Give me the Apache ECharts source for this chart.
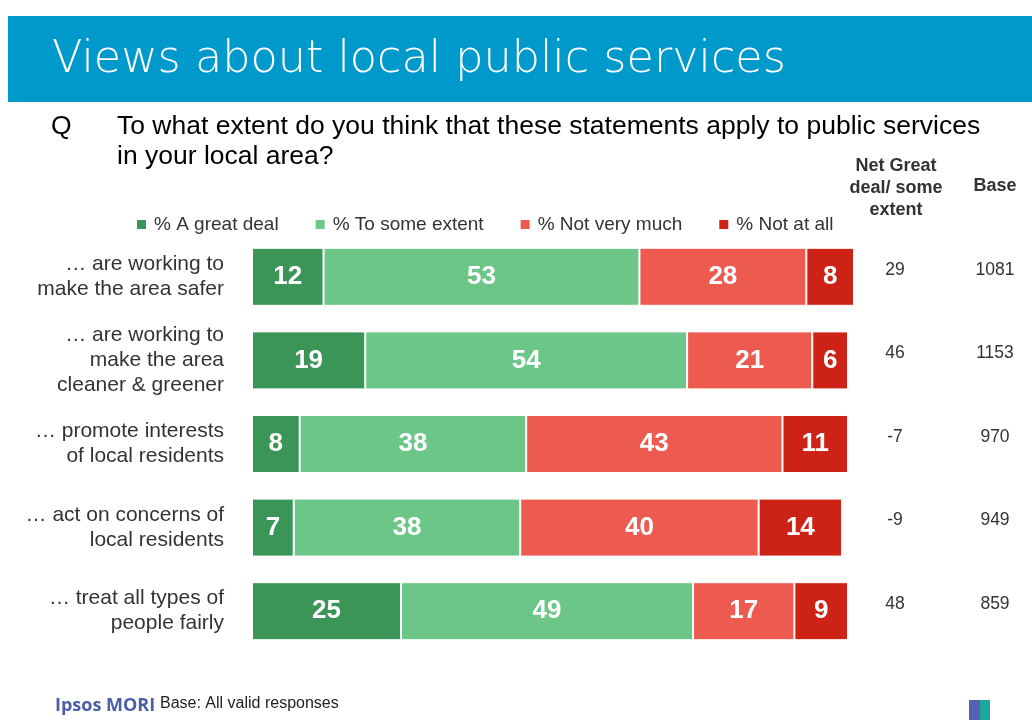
<!DOCTYPE html>
<html>
<head>
<meta charset="utf-8">
<script src="https://cdn.jsdelivr.net/npm/echarts@6/dist/echarts.min.js"></script>
<style>
  html, body { margin: 0; padding: 0; background: #fff; }
  #chart { width: 1032px; height: 720px; }
</style>
</head>
<body>
<div id="chart"></div>
<script>
// Statements asked about (top to bottom)
const statements = [
  '… are working to\nmake the area safer',
  '… are working to\nmake the area\ncleaner & greener',
  '… promote interests\nof local residents',
  '… act on concerns of\nlocal residents',
  '… treat all types of\npeople fairly'
];

// Response shares (%)
const greatDeal   = [12, 19, 8, 7, 25];
const someExtent  = [53, 54, 38, 38, 49];
const notVeryMuch = [28, 21, 43, 40, 17];
const notAtAll    = [8, 6, 11, 14, 9];

// Side table columns
const netGreatSome = [29, 46, -7, -9, 48];
const baseSizes    = [1081, 1153, 970, 949, 859];

const seriesNames = ['% A great deal', '% To some extent', '% Not very much', '% Not at all'];
const seriesColors = ['#3B9557', '#6CC688', '#EC5A50', '#CD2216'];
const seriesData = [greatDeal, someExtent, notVeryMuch, notAtAll];

const FONT = '"Liberation Sans", Arial, sans-serif';

const chart = echarts.init(document.getElementById('chart'), null, { renderer: 'canvas' });

chart.setOption({
  backgroundColor: '#ffffff',
  animation: false,
  legend: {
    data: seriesNames,
    left: 130,
    top: 210,
    itemWidth: 11,
    itemHeight: 11,
    itemGap: 35,
    icon: 'rect',
    selectedMode: false,
    textStyle: { fontFamily: FONT, fontSize: 19, color: '#333333', padding: [0, 0, 0, 2] }
  },
  grid: { left: 252, top: 235, width: 602, height: 418, containLabel: false },
  xAxis: {
    type: 'value', min: 0, max: 101, show: false
  },
  yAxis: [
    {
      type: 'category',
      data: statements,
      inverse: true,
      axisLine: { show: false },
      axisTick: { show: false },
      splitLine: { show: false },
      axisLabel: {
        margin: 28,
        align: 'right',
        fontFamily: FONT,
        fontSize: 21,
        lineHeight: 25,
        color: '#333333'
      }
    },
    {
      type: 'category',
      data: statements.map((s, i) => String(i)),
      inverse: true,
      position: 'right',
      axisLine: { show: false },
      axisTick: { show: false },
      splitLine: { show: false },
      axisLabel: {
        margin: 0,
        formatter: function (v) {
          const i = Number(v);
          return '{a|' + netGreatSome[i] + '}{b|' + baseSizes[i] + '}';
        },
        rich: {
          a: { width: 82, align: 'center', fontFamily: FONT, fontSize: 17.5, color: '#333333', padding: [0, 0, 14, 0] },
          b: { width: 118, align: 'center', fontFamily: FONT, fontSize: 17.5, color: '#333333', padding: [0, 0, 14, 0] }
        }
      }
    }
  ],
  series: seriesData.map((d, k) => ({
    name: seriesNames[k],
    type: 'bar',
    stack: 'total',
    barWidth: 58,
    data: d,
    itemStyle: { color: seriesColors[k], borderColor: '#ffffff', borderWidth: 1 },
    label: {
      show: true,
      position: 'inside',
      color: '#ffffff',
      fontFamily: FONT,
      fontWeight: 'bold',
      fontSize: 26
    }
  })),
  graphic: [
    // header band
    { type: 'rect', left: 8, top: 16, shape: { width: 1024, height: 86 }, style: { fill: '#0099CC' }, silent: true },
    { type: 'text', left: 52, top: 38, style: { text: 'Views about local public services', fill: '#ffffff', font: '200 44.5px "DejaVu Sans", Lato, sans-serif' } },
    // question
    { type: 'text', left: 51, top: 113, style: { text: 'Q', fill: '#000000', font: '26.5px ' + FONT } },
    { type: 'text', left: 117, top: 112, style: { text: 'To what extent do you think that these statements apply to public services\nin your local area?', fill: '#000000', font: '26.5px ' + FONT, lineHeight: 30 } },
    // table headers
    { type: 'text', x: 896, y: 155, style: { text: 'Net Great\ndeal/ some\nextent', align: 'center', fill: '#333333', font: 'bold 18px ' + FONT, lineHeight: 22 } },
    { type: 'text', x: 995, y: 177, style: { text: 'Base', align: 'center', fill: '#333333', font: 'bold 18px ' + FONT } },
    // footer
    { type: 'text', left: 55, top: 697, style: { text: 'Ipsos MORI', fill: '#4B5FA8', font: 'bold 18px "Open Sans", ' + FONT } },
    { type: 'text', left: 160, top: 696, style: { text: 'Base: All valid responses', fill: '#222222', font: '16px ' + FONT } },
    // small corner mark
    { type: 'rect', left: 969, top: 700, shape: { width: 11, height: 20 }, style: { fill: '#5561B0' } },
    { type: 'rect', left: 980, top: 700, shape: { width: 10, height: 20 }, style: { fill: '#1BA89C' } }
  ]
});
</script>
</body>
</html>
